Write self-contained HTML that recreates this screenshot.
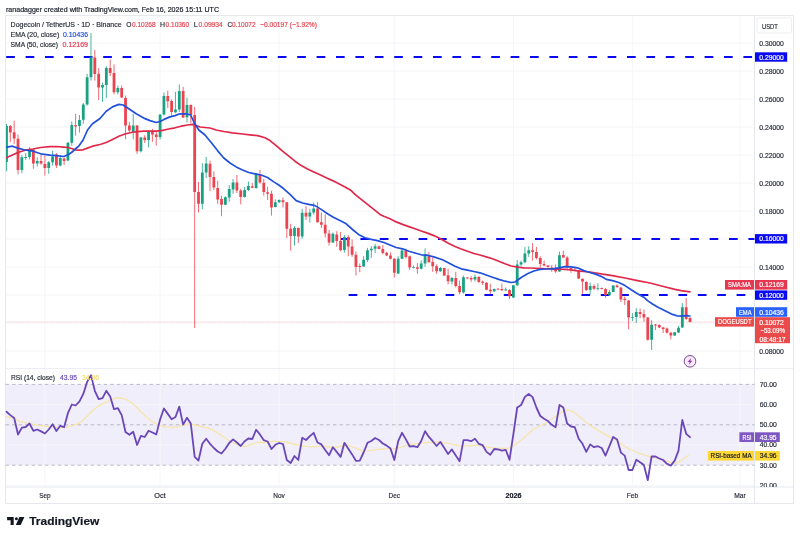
<!DOCTYPE html>
<html lang="en"><head><meta charset="utf-8"><title>DOGEUSDT chart</title>
<style>html,body{margin:0;padding:0;background:#fff}body{width:800px;height:539px;position:relative;overflow:hidden;font-family:"Liberation Sans", "DejaVu Sans", sans-serif}</style>
</head><body>
<svg width="800" height="539" viewBox="0 0 800 539" style="position:absolute;left:0;top:0;filter:blur(0.35px);font-family:'Liberation Sans', 'DejaVu Sans', sans-serif">
<rect width="800" height="539" fill="#fff"/>
<rect x="5.5" y="384.4" width="749.0" height="80.8" fill="#f1eefb"/>
<path d="M5.5 43H754.5M5.5 71H754.5M5.5 99H754.5M5.5 127H754.5M5.5 155H754.5M5.5 183H754.5M5.5 211H754.5M5.5 239H754.5M5.5 267H754.5M5.5 295H754.5M5.5 323H754.5M5.5 351H754.5M5.5 404.6H754.5M5.5 445.0H754.5M5.5 485.4H754.5M44.9 15.5V487.0M160.1 15.5V487.0M279.1 15.5V487.0M394.3 15.5V487.0M513.4 15.5V487.0M632.4 15.5V487.0M739.9 15.5V487.0" stroke="#f5f6f9" stroke-width="1" fill="none"/>
<path d="M5.5 15.5H793.5V503.5H5.5Z M754.5 15.5V503.5 M5.5 487.0H793.5" stroke="#e6e8ee" stroke-width="1" fill="none"/>
<path d="M5.5 368.5H793.5" stroke="#eceef3" stroke-width="1" fill="none"/>
<path d="M5.5 384.4H754.5" stroke="#90909f" stroke-width="0.6" stroke-dasharray="3.5 3.05" fill="none"/>
<path d="M5.5 424.8H754.5" stroke="#90909f" stroke-width="0.6" stroke-dasharray="3.5 3.05" fill="none"/>
<path d="M5.5 465.2H754.5" stroke="#90909f" stroke-width="0.6" stroke-dasharray="3.5 3.05" fill="none"/>
<path d="M5.5 322H754.5" stroke="#eb4450" stroke-width="0.6" stroke-dasharray="0.6 0.6" opacity="0.55" fill="none"/>
<path d="M6.2 57.0H754.5" stroke="#0a0af0" stroke-width="2.2" stroke-dasharray="8.7 10.7" fill="none"/>
<path d="M341 239.00H754.5" stroke="#0a0af0" stroke-width="2.2" stroke-dasharray="8.7 10.7" fill="none"/>
<path d="M348.6 295.00H754.5" stroke="#0a0af0" stroke-width="2.2" stroke-dasharray="8.7 10.7" fill="none"/>
<path d="M6.50 123.8V171.2M21.86 155.2V173.1M25.70 153.1V159.8M29.54 147.2V159.4M37.22 157.2V166.5M48.74 161.0V173.8M52.58 150.6V165.6M60.26 155.0V166.2M67.94 141.9V161.2M71.78 121.5V145.6M79.46 115.0V132.5M83.30 103.0V123.8M87.14 73.8V105.6M90.98 33.0V80.6M102.50 82.5V101.9M106.34 66.2V98.1M117.86 85.6V94.4M133.22 113.8V139.4M140.90 136.9V152.5M148.58 130.6V147.5M160.10 113.8V139.4M163.94 92.5V115.6M175.46 91.9V113.1M179.30 84.4V111.9M186.98 97.5V122.5M202.34 163.1V209.4M206.18 156.9V178.1M225.38 196.2V205.0M229.22 185.0V201.9M233.06 179.0V193.8M244.58 186.9V197.5M248.42 181.5V191.2M256.10 173.0V188.8M275.30 199.4V207.5M279.14 199.4V202.8M294.50 226.2V245.6M302.18 208.8V238.8M309.86 208.8V222.5M313.70 202.5V214.4M332.90 232.5V243.1M344.42 235.0V252.5M363.62 256.2V266.9M367.46 247.8V261.9M371.30 246.2V257.8M375.14 243.8V253.1M398.18 256.2V274.0M402.02 248.8V259.0M413.54 265.6V268.5M421.22 260.2V269.4M425.06 248.5V266.9M440.42 266.9V271.9M451.94 276.9V284.4M463.46 275.6V293.5M474.98 274.4V281.5M494.18 288.5V291.9M505.70 287.5V290.6M513.38 285.0V298.1M517.22 260.0V286.0M521.06 260.6V266.0M524.90 246.9V263.1M528.74 246.2V256.9M559.46 251.5V271.9M590.18 282.5V294.4M597.86 283.1V290.6M609.38 289.8V295.6M613.22 285.2V292.2M632.42 313.1V321.0M636.26 308.1V323.1M651.62 320.2V350.0M674.66 331.9V336.0M678.50 326.0V333.1M682.34 303.1V327.8" stroke="#1aa184" stroke-width="0.8" fill="none"/>
<path d="M10.34 125.0V141.9M14.18 120.6V143.8M18.02 134.4V174.4M33.38 148.1V168.8M41.06 155.0V164.8M44.90 155.6V175.6M56.42 153.1V168.1M64.10 157.5V165.0M75.62 113.8V135.6M94.82 50.0V80.6M98.66 68.1V100.0M110.18 59.4V76.2M114.02 64.4V94.4M121.70 85.6V98.1M125.54 95.6V139.4M129.38 121.9V131.9M137.06 125.0V153.8M144.74 135.2V143.1M152.42 128.8V141.9M156.26 131.2V145.6M167.78 90.6V108.1M171.62 99.4V115.6M183.14 86.9V118.1M190.82 104.4V123.1M194.66 106.9V328.0M198.50 181.9V212.5M210.02 160.6V191.2M213.86 171.2V190.0M217.70 180.6V203.8M221.54 195.6V216.2M236.90 175.0V193.1M240.74 188.8V204.4M252.26 183.0V188.1M259.94 170.0V183.8M263.78 178.8V195.6M267.62 186.9V200.0M271.46 190.6V215.6M282.98 197.5V207.5M286.82 201.9V238.1M290.66 223.8V250.6M298.34 227.5V243.1M306.02 206.2V219.8M317.54 201.9V222.5M321.38 212.5V228.1M325.22 214.4V237.5M329.06 230.0V245.6M336.74 231.2V246.9M340.58 231.9V251.2M348.26 235.0V256.2M352.10 239.4V256.9M355.94 251.5V275.6M359.78 263.5V272.2M378.98 245.6V249.4M382.82 245.0V254.4M386.66 251.9V256.2M390.50 252.5V259.4M394.34 258.1V277.5M405.86 248.5V258.5M409.70 255.6V270.0M417.38 263.1V273.8M428.90 251.9V262.8M432.74 257.5V271.9M436.58 264.4V273.8M444.26 267.8V276.2M448.10 268.8V284.4M455.78 271.9V287.5M459.62 280.6V294.4M467.30 277.2V279.4M471.14 276.0V281.9M478.82 276.0V282.8M482.66 280.6V285.0M486.50 282.2V290.2M490.34 283.8V293.8M498.02 288.1V290.0M501.86 283.5V291.0M509.54 289.0V299.0M532.58 243.1V260.6M536.42 246.9V259.4M540.26 256.2V267.8M544.10 260.6V266.2M547.94 265.0V267.8M551.78 265.0V271.9M555.62 264.4V272.8M563.30 250.6V258.1M567.14 256.2V268.8M570.98 266.2V272.8M574.82 267.5V271.2M578.66 270.0V279.0M582.50 278.5V293.8M586.34 281.2V291.2M594.02 284.4V290.0M601.70 287.5V289.4M605.54 288.1V297.8M617.06 284.4V287.5M620.90 287.2V301.9M624.74 296.5V305.0M628.58 300.0V329.4M640.10 308.5V318.1M643.94 309.4V321.9M647.78 316.9V340.6M655.46 324.0V330.0M659.30 324.4V328.1M663.14 326.9V333.1M666.98 327.5V333.5M670.82 331.9V339.4M686.18 298.1V319.8M690.02 317.2V322.5" stroke="#eb4450" stroke-width="0.8" fill="none"/>
<path d="M6.00 126.0h1.90V161.9h-1.90zM20.46 157.2h2.80V170.0h-2.80zM24.30 156.9h2.80V158.1h-2.80zM28.14 149.4h2.80V156.9h-2.80zM35.82 161.0h2.80V163.5h-2.80zM47.34 162.2h2.80V168.1h-2.80zM51.18 156.5h2.80V162.2h-2.80zM58.86 158.1h2.80V165.6h-2.80zM66.54 142.8h2.80V160.6h-2.80zM70.38 125.0h2.80V142.8h-2.80zM78.06 120.0h2.80V126.0h-2.80zM81.90 104.4h2.80V119.8h-2.80zM85.74 77.2h2.80V104.4h-2.80zM89.58 57.2h2.80V77.2h-2.80zM101.10 85.0h2.80V87.5h-2.80zM104.94 68.1h2.80V85.0h-2.80zM116.46 88.1h2.80V92.2h-2.80zM131.82 125.6h2.80V131.9h-2.80zM139.50 137.5h2.80V151.2h-2.80zM147.18 131.5h2.80V140.0h-2.80zM158.70 114.8h2.80V136.9h-2.80zM162.54 96.0h2.80V114.4h-2.80zM174.06 109.4h2.80V112.2h-2.80zM177.90 91.0h2.80V109.4h-2.80zM185.58 105.0h2.80V117.2h-2.80zM200.94 172.5h2.80V203.8h-2.80zM204.78 163.5h2.80V172.5h-2.80zM223.98 197.2h2.80V204.8h-2.80zM227.82 189.0h2.80V197.5h-2.80zM231.66 182.5h2.80V189.4h-2.80zM243.18 190.0h2.80V196.9h-2.80zM247.02 186.0h2.80V190.0h-2.80zM254.70 173.5h2.80V188.1h-2.80zM273.90 202.2h2.80V206.9h-2.80zM277.74 200.0h2.80V202.2h-2.80zM293.10 228.1h2.80V236.0h-2.80zM300.78 212.8h2.80V236.5h-2.80zM308.46 212.5h2.80V216.5h-2.80zM312.30 208.5h2.80V212.5h-2.80zM331.50 233.8h2.80V242.5h-2.80zM343.02 236.9h2.80V250.0h-2.80zM362.22 259.8h2.80V266.5h-2.80zM366.06 250.2h2.80V260.0h-2.80zM369.90 248.8h2.80V250.2h-2.80zM373.74 246.2h2.80V248.8h-2.80zM396.78 258.8h2.80V273.5h-2.80zM400.62 250.6h2.80V258.8h-2.80zM412.14 266.9h2.80V267.8h-2.80zM419.82 263.5h2.80V268.8h-2.80zM423.66 254.4h2.80V263.5h-2.80zM439.02 268.1h2.80V271.2h-2.80zM450.54 278.1h2.80V281.5h-2.80zM462.06 277.2h2.80V292.5h-2.80zM473.58 276.9h2.80V279.4h-2.80zM492.78 289.0h2.80V291.2h-2.80zM504.30 289.6h2.80V290.4h-2.80zM511.98 285.2h2.80V297.5h-2.80zM515.82 264.4h2.80V285.2h-2.80zM519.66 262.2h2.80V264.4h-2.80zM523.50 253.5h2.80V262.2h-2.80zM527.34 250.2h2.80V253.5h-2.80zM558.06 255.2h2.80V271.5h-2.80zM588.78 286.0h2.80V290.0h-2.80zM596.46 288.1h2.80V288.8h-2.80zM607.98 291.9h2.80V295.2h-2.80zM611.82 285.6h2.80V291.9h-2.80zM631.02 316.9h2.80V317.8h-2.80zM634.86 311.9h2.80V316.9h-2.80zM650.22 324.8h2.80V339.8h-2.80zM673.26 332.2h2.80V335.6h-2.80zM677.10 327.8h2.80V332.5h-2.80zM680.94 307.2h2.80V327.5h-2.80z" fill="#1aa184"/>
<path d="M8.94 126.0h2.80V132.5h-2.80zM12.78 132.2h2.80V138.5h-2.80zM16.62 138.8h2.80V170.0h-2.80zM31.98 149.4h2.80V163.5h-2.80zM39.66 161.0h2.80V163.5h-2.80zM43.50 164.0h2.80V168.1h-2.80zM55.02 154.4h2.80V165.6h-2.80zM62.70 158.5h2.80V161.0h-2.80zM74.22 125.2h2.80V126.5h-2.80zM93.42 57.5h2.80V74.0h-2.80zM97.26 73.8h2.80V87.5h-2.80zM108.78 68.1h2.80V73.1h-2.80zM112.62 73.1h2.80V92.2h-2.80zM120.30 88.1h2.80V97.5h-2.80zM124.14 98.1h2.80V125.6h-2.80zM127.98 125.6h2.80V130.6h-2.80zM135.66 125.6h2.80V151.2h-2.80zM143.34 137.5h2.80V140.0h-2.80zM151.02 131.5h2.80V134.4h-2.80zM154.86 134.4h2.80V136.9h-2.80zM166.38 96.0h2.80V101.2h-2.80zM170.22 101.0h2.80V111.9h-2.80zM181.74 91.0h2.80V117.5h-2.80zM189.42 105.0h2.80V115.0h-2.80zM193.26 115.0h2.80V191.9h-2.80zM197.10 191.9h2.80V203.8h-2.80zM208.62 163.8h2.80V176.9h-2.80zM212.46 176.9h2.80V187.5h-2.80zM216.30 188.1h2.80V199.4h-2.80zM220.14 199.0h2.80V204.8h-2.80zM235.50 182.5h2.80V190.6h-2.80zM239.34 190.6h2.80V196.9h-2.80zM250.86 186.2h2.80V187.8h-2.80zM258.54 175.0h2.80V182.5h-2.80zM262.38 182.8h2.80V191.9h-2.80zM266.22 192.2h2.80V193.8h-2.80zM270.06 193.8h2.80V207.5h-2.80zM281.58 200.2h2.80V202.2h-2.80zM285.42 202.2h2.80V228.8h-2.80zM289.26 228.8h2.80V236.0h-2.80zM296.94 228.1h2.80V236.5h-2.80zM304.62 212.8h2.80V216.5h-2.80zM316.14 208.5h2.80V222.2h-2.80zM319.98 222.2h2.80V224.8h-2.80zM323.82 224.8h2.80V233.5h-2.80zM327.66 233.5h2.80V242.5h-2.80zM335.34 234.4h2.80V241.0h-2.80zM339.18 241.0h2.80V250.2h-2.80zM346.86 236.9h2.80V246.5h-2.80zM350.70 246.5h2.80V254.8h-2.80zM354.54 254.8h2.80V266.9h-2.80zM358.38 266.0h2.80V266.9h-2.80zM377.58 246.2h2.80V249.0h-2.80zM381.42 249.0h2.80V253.1h-2.80zM385.26 252.8h2.80V255.6h-2.80zM389.10 255.4h2.80V258.8h-2.80zM392.94 258.8h2.80V272.8h-2.80zM404.46 250.6h2.80V256.9h-2.80zM408.30 256.2h2.80V267.5h-2.80zM415.98 267.2h2.80V268.8h-2.80zM427.50 255.6h2.80V262.2h-2.80zM431.34 261.9h2.80V266.2h-2.80zM435.18 266.2h2.80V271.2h-2.80zM442.86 268.1h2.80V275.6h-2.80zM446.70 275.2h2.80V281.2h-2.80zM454.38 278.1h2.80V286.0h-2.80zM458.22 286.0h2.80V292.2h-2.80zM465.90 277.5h2.80V278.2h-2.80zM469.74 277.9h2.80V279.4h-2.80zM477.42 276.9h2.80V281.9h-2.80zM481.26 281.5h2.80V282.8h-2.80zM485.10 282.8h2.80V289.8h-2.80zM488.94 289.8h2.80V291.2h-2.80zM496.62 288.7h2.80V289.4h-2.80zM500.46 289.0h2.80V290.2h-2.80zM508.14 290.0h2.80V296.2h-2.80zM531.18 250.2h2.80V251.9h-2.80zM535.02 251.9h2.80V258.1h-2.80zM538.86 258.1h2.80V264.0h-2.80zM542.70 264.0h2.80V265.6h-2.80zM546.54 265.6h2.80V266.9h-2.80zM550.38 267.5h2.80V269.0h-2.80zM554.22 268.8h2.80V271.5h-2.80zM561.90 255.0h2.80V257.5h-2.80zM565.74 257.5h2.80V266.2h-2.80zM569.58 268.1h2.80V270.0h-2.80zM573.42 269.8h2.80V270.6h-2.80zM577.26 270.6h2.80V278.5h-2.80zM581.10 278.8h2.80V281.5h-2.80zM584.94 281.9h2.80V290.0h-2.80zM592.62 286.0h2.80V288.8h-2.80zM600.30 288.1h2.80V289.0h-2.80zM604.14 289.0h2.80V295.0h-2.80zM615.66 285.6h2.80V287.2h-2.80zM619.50 287.5h2.80V299.4h-2.80zM623.34 298.8h2.80V300.0h-2.80zM627.18 300.6h2.80V317.5h-2.80zM638.70 311.9h2.80V314.0h-2.80zM642.54 314.0h2.80V317.5h-2.80zM646.38 317.5h2.80V339.8h-2.80zM654.06 324.6h2.80V325.4h-2.80zM657.90 325.0h2.80V327.5h-2.80zM661.74 327.5h2.80V329.0h-2.80zM665.58 328.5h2.80V332.8h-2.80zM669.42 332.8h2.80V335.6h-2.80zM684.78 307.2h2.80V319.0h-2.80zM688.62 318.1h2.80V321.9h-2.80z" fill="#eb4450"/>
<path d="M6.9 157.5L12.5 155.0L17.9 152.5L25.0 150.2L33.1 149.0L40.6 147.5L50.0 146.6L56.2 146.5L63.8 147.1L67.5 147.5L71.5 148.5L75.4 149.8L79.2 150.2L83.1 149.8L87.5 148.1L92.5 146.2L100.0 144.5L106.2 142.5L112.5 139.4L118.8 136.2L125.0 134.0L131.2 132.5L137.5 131.6L143.8 131.2L150.0 131.2L156.2 131.2L162.5 130.4L168.8 129.0L175.0 127.8L181.2 126.2L187.5 125.0L192.5 124.4L196.2 125.6L200.0 127.0L210.0 128.0L216.2 130.0L223.8 131.5L232.5 132.8L242.5 134.0L250.0 134.8L257.5 135.6L265.0 137.8L270.0 140.6L276.2 145.6L282.5 151.2L288.8 156.2L295.0 161.2L301.2 165.6L307.5 169.0L313.8 172.0L320.0 174.8L326.2 177.8L332.5 180.6L338.8 183.8L345.0 187.0L351.2 190.6L355.0 194.4L361.2 199.4L367.5 204.4L373.8 209.4L380.0 214.4L383.8 216.2L390.0 218.8L396.2 221.9L402.5 224.4L408.8 226.6L415.0 228.8L421.2 231.0L427.5 233.1L433.8 235.6L440.0 238.4L448.8 243.5L455.0 246.5L461.2 249.0L467.5 251.2L473.8 253.5L480.0 255.0L486.2 256.9L492.5 258.8L498.8 261.2L505.0 263.8L511.2 266.0L517.5 267.2L523.8 267.9L530.0 268.0L540.0 268.5L552.5 269.0L565.0 269.4L571.2 270.0L577.5 270.9L583.8 271.5L590.0 272.2L596.2 273.0L602.5 274.2L612.5 275.6L625.0 278.0L637.5 280.6L650.0 283.0L662.5 286.2L675.0 289.4L681.2 290.6L690.0 291.9" stroke="#e0294a" stroke-width="1.7" fill="none" stroke-linejoin="round" stroke-linecap="round"/>
<path d="M6.9 147.2L12.5 146.2L17.9 148.1L25.0 150.0L33.1 151.2L40.6 153.8L50.0 155.2L56.2 155.6L63.8 156.5L67.5 155.0L71.5 152.5L75.4 149.0L79.2 145.6L83.1 140.0L87.5 130.0L92.5 123.8L100.0 118.5L106.2 111.2L112.5 106.9L118.8 104.4L123.1 105.0L128.8 108.8L136.2 113.8L143.8 118.1L150.0 120.6L156.2 122.5L160.0 121.5L164.0 119.4L170.0 116.9L175.0 115.6L180.0 113.8L186.2 113.8L190.6 115.0L194.8 123.8L198.8 130.0L205.0 135.0L211.2 142.5L217.5 150.6L223.8 158.0L230.0 163.0L236.2 166.9L242.5 170.0L248.8 172.5L255.0 173.8L261.2 175.0L267.5 177.5L273.8 181.9L278.8 185.0L283.8 188.8L290.0 194.4L296.2 200.6L302.5 203.0L308.8 204.4L315.0 205.6L321.2 209.4L327.5 213.8L333.8 217.5L340.0 220.6L346.2 223.8L352.5 229.5L358.8 234.7L365.0 237.8L371.2 239.4L377.5 240.6L383.8 242.5L390.0 245.0L396.2 247.5L402.5 248.8L408.8 251.2L415.0 253.0L421.2 254.8L427.5 255.2L433.8 256.9L442.5 259.8L448.8 263.0L455.0 266.2L461.2 268.8L467.5 270.2L473.8 271.5L480.0 272.8L486.2 275.0L492.5 277.2L498.8 279.4L505.0 281.2L511.2 282.5L515.0 282.0L521.2 277.5L527.5 273.8L533.8 271.0L540.0 269.4L546.2 269.0L552.5 268.8L558.8 267.8L565.0 266.6L571.2 266.9L577.5 267.8L583.8 270.6L590.0 272.5L596.2 274.4L602.5 277.0L606.2 279.4L612.5 280.6L618.8 282.5L625.0 285.6L631.2 289.8L637.5 293.8L643.8 297.2L647.5 300.6L652.5 304.0L657.5 306.9L662.5 309.4L667.5 311.9L672.5 314.4L677.5 316.0L681.2 316.2L686.2 315.6L690.0 316.0" stroke="#2150dc" stroke-width="1.7" fill="none" stroke-linejoin="round" stroke-linecap="round"/>
<path d="M6.2 416.4L12.5 418.2L18.8 420.8L25.0 422.6L31.2 423.9L37.5 425.1L43.8 426.0L50.0 426.6L56.2 427.2L62.5 427.6L66.2 427.2L71.2 425.8L77.5 423.9L82.5 420.8L87.5 415.8L93.8 409.5L100.0 404.9L108.8 400.8L115.0 398.0L121.2 398.0L127.5 400.1L133.8 404.5L140.0 410.8L146.2 417.0L152.5 421.8L158.8 425.1L165.0 426.8L171.2 427.1L177.5 427.1L182.5 425.2L188.8 423.8L195.0 425.0L201.2 426.5L207.5 427.8L213.8 430.6L220.0 434.4L226.2 438.8L232.5 442.5L238.8 445.2L245.0 446.9L251.2 444.4L257.5 442.5L263.8 442.5L272.5 441.2L285.0 441.9L297.5 445.0L310.0 446.9L322.5 446.2L335.0 447.5L347.5 445.0L356.2 448.1L362.5 451.2L368.8 450.6L375.0 449.8L381.2 449.0L387.5 448.8L393.8 448.8L400.0 447.5L406.2 445.6L412.5 444.4L418.8 443.5L425.0 442.8L431.2 442.2L437.5 441.9L446.2 443.1L452.5 444.4L458.8 445.6L465.0 446.2L471.2 445.6L477.5 445.2L483.8 446.2L490.0 447.5L496.2 448.1L502.5 448.5L508.8 448.1L515.0 445.0L521.2 440.0L527.5 434.4L533.8 429.0L542.5 425.0L548.8 421.2L555.0 416.9L561.2 412.5L567.5 410.0L573.8 411.9L580.0 416.9L586.2 422.5L592.5 426.9L598.8 430.6L605.0 434.4L611.2 437.6L617.5 440.6L622.5 445.0L628.8 448.8L635.0 451.5L641.2 453.8L647.5 456.0L653.8 457.5L660.0 458.8L666.2 461.0L672.5 463.1L677.5 463.1L682.5 459.4L688.8 455.2" stroke="#f5e5ac" stroke-width="1.3" fill="none" stroke-linejoin="round"/>
<path d="M6.5 411.8L10.3 415.1L14.2 418.0L18.0 434.5L21.9 427.6L25.7 427.0L29.5 423.5L33.4 430.8L37.2 429.5L41.1 431.4L44.9 433.5L48.7 429.5L52.6 424.2L56.4 431.0L60.3 425.8L64.1 427.2L67.9 413.2L71.8 404.5L75.6 405.5L79.5 401.4L83.3 393.9L87.1 382.0L91.0 375.1L94.8 390.8L98.7 399.2L102.5 398.2L106.3 390.8L110.2 396.4L114.0 409.2L117.9 408.2L121.7 415.1L125.5 432.0L129.4 434.8L133.2 431.8L137.1 445.0L140.9 435.8L144.7 437.0L148.6 430.7L152.4 432.5L156.3 434.4L160.1 419.5L163.9 408.5L167.8 413.9L171.6 419.2L175.5 417.0L179.3 406.6L183.1 424.6L187.0 417.7L190.8 423.6L194.7 456.9L198.5 460.6L202.3 443.8L206.2 438.8L210.0 443.8L213.9 448.0L217.7 451.5L221.5 453.5L225.4 448.8L229.2 443.0L233.1 439.4L236.9 442.5L240.7 446.0L244.6 441.2L248.4 438.5L252.3 439.0L256.1 429.8L259.9 434.4L263.8 440.2L267.6 441.5L271.5 449.0L275.3 444.8L279.1 443.0L283.0 444.0L286.8 460.0L290.7 463.0L294.5 456.0L298.3 460.0L302.2 437.8L306.0 440.0L309.9 436.2L313.7 432.8L317.5 442.5L321.4 444.4L325.2 450.0L329.1 455.2L332.9 447.2L336.7 451.9L340.6 456.9L344.4 442.8L348.3 448.8L352.1 454.4L355.9 460.8L359.8 460.6L363.6 452.5L367.5 442.8L371.3 441.0L375.1 438.0L379.0 440.0L382.8 443.5L386.7 445.6L390.5 448.5L394.3 460.0L398.2 441.2L402.0 432.8L405.9 439.4L409.7 446.5L413.5 446.2L417.4 447.2L421.2 441.0L425.1 431.2L428.9 436.9L432.7 441.2L436.6 446.0L440.4 441.9L444.3 448.0L448.1 454.0L451.9 449.4L455.8 455.6L459.6 461.2L463.5 440.2L467.3 440.2L471.1 441.2L475.0 438.8L478.8 443.8L482.7 445.2L486.5 451.9L490.3 454.8L494.2 449.0L498.0 449.4L501.9 450.6L505.7 449.8L509.5 459.8L513.4 434.0L517.2 407.5L521.1 405.0L524.9 396.9L528.7 394.0L532.6 397.1L536.4 407.5L540.3 416.0L544.1 418.8L547.9 421.0L551.8 424.8L555.6 427.2L559.5 405.0L563.3 407.5L567.1 423.5L571.0 426.5L574.8 427.2L578.7 438.8L582.5 443.8L586.3 451.9L590.2 444.4L594.0 447.2L597.9 446.2L601.7 448.0L605.5 455.6L609.4 446.2L613.2 436.9L617.1 439.4L620.9 452.6L624.7 455.6L628.6 470.0L632.4 470.0L636.3 459.8L640.1 462.2L643.9 465.0L647.8 480.2L651.6 456.5L655.5 456.5L659.3 458.5L663.1 460.0L667.0 463.8L670.8 465.6L674.7 460.6L678.5 450.6L682.3 420.0L686.2 433.8L690.0 437.2" stroke="#6a47b8" stroke-width="1.8" fill="none" stroke-linejoin="round" stroke-linecap="round"/>
<g transform="translate(690 361.3)"><circle r="5.8" fill="#fbe9fd" stroke="#6b3a86" stroke-width="0.9"/><path d="M1.3 -3.6L-2.3 0.6H-0.2L-1.3 3.6L2.3 -0.6H0.2Z" fill="#8e2fa8"/></g>
<text x="6" y="11.7" font-size="7.6" fill="#131722" textLength="213" lengthAdjust="spacingAndGlyphs" stroke="#131722" stroke-width="0.18">ranadagger created with TradingView.com, Feb 16, 2026 15:11 UTC</text>
<text x="10.6" y="27" font-size="7.0" fill="#2a2e39" textLength="111" lengthAdjust="spacingAndGlyphs" stroke="#2a2e39" stroke-width="0.18">Dogecoin / TetherUS · 1D · Binance</text>
<text x="126.2" y="27" font-size="7.0" fill="#2a2e39" textLength="5.2" lengthAdjust="spacingAndGlyphs" stroke="#2a2e39" stroke-width="0.18">O</text>
<text x="132" y="27" font-size="7.0" fill="#eb4450" textLength="23.5" lengthAdjust="spacingAndGlyphs" stroke="#eb4450" stroke-width="0.18">0.10268</text>
<text x="160" y="27" font-size="7.0" fill="#2a2e39" textLength="5" lengthAdjust="spacingAndGlyphs" stroke="#2a2e39" stroke-width="0.18">H</text>
<text x="165.6" y="27" font-size="7.0" fill="#eb4450" textLength="23.5" lengthAdjust="spacingAndGlyphs" stroke="#eb4450" stroke-width="0.18">0.10360</text>
<text x="193.8" y="27" font-size="7.0" fill="#2a2e39" textLength="4" lengthAdjust="spacingAndGlyphs" stroke="#2a2e39" stroke-width="0.18">L</text>
<text x="198.6" y="27" font-size="7.0" fill="#eb4450" textLength="24.2" lengthAdjust="spacingAndGlyphs" stroke="#eb4450" stroke-width="0.18">0.09934</text>
<text x="227.6" y="27" font-size="7.0" fill="#2a2e39" textLength="4.6" lengthAdjust="spacingAndGlyphs" stroke="#2a2e39" stroke-width="0.18">C</text>
<text x="232" y="27" font-size="7.0" fill="#eb4450" textLength="23.5" lengthAdjust="spacingAndGlyphs" stroke="#eb4450" stroke-width="0.18">0.10072</text>
<text x="260" y="27" font-size="7.0" fill="#eb4450" textLength="57" lengthAdjust="spacingAndGlyphs" stroke="#eb4450" stroke-width="0.18">−0.00197 (−1.92%)</text>
<text x="10.6" y="36.8" font-size="7.0" fill="#2a2e39" textLength="48.6" lengthAdjust="spacingAndGlyphs" stroke="#2a2e39" stroke-width="0.18">EMA (20, close)</text>
<text x="63" y="36.8" font-size="7.0" fill="#2150dc" textLength="25" lengthAdjust="spacingAndGlyphs" stroke="#2150dc" stroke-width="0.18">0.10436</text>
<text x="10.6" y="47.4" font-size="7.0" fill="#2a2e39" textLength="47.4" lengthAdjust="spacingAndGlyphs" stroke="#2a2e39" stroke-width="0.18">SMA (50, close)</text>
<text x="62.5" y="47.4" font-size="7.0" fill="#e8384f" textLength="25.5" lengthAdjust="spacingAndGlyphs" stroke="#e8384f" stroke-width="0.18">0.12169</text>
<text x="11" y="380.2" font-size="7.0" fill="#2a2e39" textLength="44" lengthAdjust="spacingAndGlyphs" stroke="#2a2e39" stroke-width="0.18">RSI (14, close)</text>
<text x="60" y="380.2" font-size="7.0" fill="#6a47b8" textLength="17" lengthAdjust="spacingAndGlyphs" stroke="#6a47b8" stroke-width="0.18">43.95</text>
<text x="82" y="380.2" font-size="7.0" fill="#f2d870" textLength="17" lengthAdjust="spacingAndGlyphs" stroke="#f2d870" stroke-width="0.18">34.96</text>
<text x="759.3" y="45.5" font-size="6.9" fill="#2a2e39" textLength="24.6" lengthAdjust="spacingAndGlyphs" stroke="#2a2e39" stroke-width="0.18">0.30000</text>
<text x="759.3" y="73.5" font-size="6.9" fill="#2a2e39" textLength="24.6" lengthAdjust="spacingAndGlyphs" stroke="#2a2e39" stroke-width="0.18">0.28000</text>
<text x="759.3" y="101.5" font-size="6.9" fill="#2a2e39" textLength="24.6" lengthAdjust="spacingAndGlyphs" stroke="#2a2e39" stroke-width="0.18">0.26000</text>
<text x="759.3" y="129.5" font-size="6.9" fill="#2a2e39" textLength="24.6" lengthAdjust="spacingAndGlyphs" stroke="#2a2e39" stroke-width="0.18">0.24000</text>
<text x="759.3" y="157.5" font-size="6.9" fill="#2a2e39" textLength="24.6" lengthAdjust="spacingAndGlyphs" stroke="#2a2e39" stroke-width="0.18">0.22000</text>
<text x="759.3" y="185.5" font-size="6.9" fill="#2a2e39" textLength="24.6" lengthAdjust="spacingAndGlyphs" stroke="#2a2e39" stroke-width="0.18">0.20000</text>
<text x="759.3" y="213.5" font-size="6.9" fill="#2a2e39" textLength="24.6" lengthAdjust="spacingAndGlyphs" stroke="#2a2e39" stroke-width="0.18">0.18000</text>
<text x="759.3" y="241.5" font-size="6.9" fill="#2a2e39" textLength="24.6" lengthAdjust="spacingAndGlyphs" stroke="#2a2e39" stroke-width="0.18">0.16000</text>
<text x="759.3" y="269.5" font-size="6.9" fill="#2a2e39" textLength="24.6" lengthAdjust="spacingAndGlyphs" stroke="#2a2e39" stroke-width="0.18">0.14000</text>
<text x="759.3" y="297.5" font-size="6.9" fill="#2a2e39" textLength="24.6" lengthAdjust="spacingAndGlyphs" stroke="#2a2e39" stroke-width="0.18">0.12000</text>
<text x="759.3" y="325.5" font-size="6.9" fill="#2a2e39" textLength="24.6" lengthAdjust="spacingAndGlyphs" stroke="#2a2e39" stroke-width="0.18">0.10000</text>
<text x="759.3" y="353.5" font-size="6.9" fill="#2a2e39" textLength="24.6" lengthAdjust="spacingAndGlyphs" stroke="#2a2e39" stroke-width="0.18">0.08000</text>
<text x="759.8" y="386.79999999999995" font-size="6.9" fill="#2a2e39" textLength="17" lengthAdjust="spacingAndGlyphs" stroke="#2a2e39" stroke-width="0.18">70.00</text>
<text x="759.8" y="406.99999999999994" font-size="6.9" fill="#2a2e39" textLength="17" lengthAdjust="spacingAndGlyphs" stroke="#2a2e39" stroke-width="0.18">60.00</text>
<text x="759.8" y="427.19999999999993" font-size="6.9" fill="#2a2e39" textLength="17" lengthAdjust="spacingAndGlyphs" stroke="#2a2e39" stroke-width="0.18">50.00</text>
<text x="759.8" y="447.4" font-size="6.9" fill="#2a2e39" textLength="17" lengthAdjust="spacingAndGlyphs" stroke="#2a2e39" stroke-width="0.18">40.00</text>
<text x="759.8" y="467.59999999999997" font-size="6.9" fill="#2a2e39" textLength="17" lengthAdjust="spacingAndGlyphs" stroke="#2a2e39" stroke-width="0.18">30.00</text>
<clipPath id="c20"><rect x="754.5" y="470" width="40" height="17.0"/></clipPath>
<g clip-path="url(#c20)">
<text x="759.8" y="487.79999999999995" font-size="6.9" fill="#2a2e39" textLength="17" lengthAdjust="spacingAndGlyphs" stroke="#2a2e39" stroke-width="0.18">20.00</text>
</g>
<rect x="757" y="17.8" width="34.6" height="15.2" rx="2" fill="#fff" stroke="#e6e8ee" stroke-width="0.8"/>
<text x="762" y="28.7" font-size="6.9" fill="#2a2e39" textLength="15.8" lengthAdjust="spacingAndGlyphs" stroke="#2a2e39" stroke-width="0.18">USDT</text>
<rect x="755" y="52.3" width="32.200000000000045" height="9.400000000000006" fill="#0a0af0"/>
<text x="759.3" y="59.5" font-size="6.9" fill="#fff" textLength="24.6" lengthAdjust="spacingAndGlyphs" stroke="#fff" stroke-width="0.18">0.29000</text>
<rect x="755" y="234.1" width="32.200000000000045" height="9.400000000000006" fill="#0a0af0"/>
<text x="759.3" y="241.3" font-size="6.9" fill="#fff" textLength="24.6" lengthAdjust="spacingAndGlyphs" stroke="#fff" stroke-width="0.18">0.16000</text>
<rect x="725" y="280" width="29" height="9.600000000000023" fill="#e5374f"/>
<text x="728" y="287.3" font-size="6.9" fill="#fff" textLength="23" lengthAdjust="spacingAndGlyphs" stroke="#fff" stroke-width="0.18">SMA:MA</text>
<rect x="755" y="280" width="32.200000000000045" height="9.600000000000023" fill="#e5374f"/>
<text x="759.3" y="287.3" font-size="6.9" fill="#fff" textLength="24.6" lengthAdjust="spacingAndGlyphs" stroke="#fff" stroke-width="0.18">0.12169</text>
<rect x="755" y="290.4" width="32.200000000000045" height="9.400000000000034" fill="#0a0af0"/>
<text x="759.3" y="297.6" font-size="6.9" fill="#fff" textLength="24.6" lengthAdjust="spacingAndGlyphs" stroke="#fff" stroke-width="0.18">0.12000</text>
<rect x="736" y="307.2" width="18" height="9.600000000000023" fill="#2962ff"/>
<text x="739" y="314.5" font-size="6.9" fill="#fff" textLength="12.5" lengthAdjust="spacingAndGlyphs" stroke="#fff" stroke-width="0.18">EMA</text>
<rect x="755" y="307.2" width="32.200000000000045" height="9.600000000000023" fill="#2962ff"/>
<text x="759.3" y="314.5" font-size="6.9" fill="#fff" textLength="24.6" lengthAdjust="spacingAndGlyphs" stroke="#fff" stroke-width="0.18">0.10436</text>
<rect x="715" y="317.2" width="39" height="9.400000000000034" fill="#ea4a4a"/>
<text x="718" y="324.4" font-size="6.9" fill="#fff" textLength="33.5" lengthAdjust="spacingAndGlyphs" stroke="#fff" stroke-width="0.18">DOGEUSDT</text>
<rect x="755" y="317.2" width="35" height="26.0" fill="#ea4a4a"/>
<text x="759.3" y="324.8" font-size="6.9" fill="#fff" textLength="24.6" lengthAdjust="spacingAndGlyphs" stroke="#fff" stroke-width="0.18">0.10072</text>
<text x="760.3" y="333.2" font-size="6.9" fill="#fff" textLength="24.6" lengthAdjust="spacingAndGlyphs" stroke="#fff" stroke-width="0.18">−53.09%</text>
<text x="759.6" y="341.6" font-size="6.9" fill="#fff" textLength="26" lengthAdjust="spacingAndGlyphs" stroke="#fff" stroke-width="0.18">08:48:17</text>
<rect x="739.4" y="432.3" width="14.600000000000023" height="9.699999999999989" fill="#7e57c2"/>
<text x="742.5" y="439.65" font-size="6.9" fill="#fff" textLength="9" lengthAdjust="spacingAndGlyphs" stroke="#fff" stroke-width="0.18">RSI</text>
<rect x="755" y="432.3" width="24.799999999999955" height="9.699999999999989" fill="#7e57c2"/>
<text x="759.8" y="439.65" font-size="6.9" fill="#fff" textLength="16.8" lengthAdjust="spacingAndGlyphs" stroke="#fff" stroke-width="0.18">43.95</text>
<rect x="707.8" y="451" width="46.200000000000045" height="9.600000000000023" fill="#fdd835"/>
<text x="710.6" y="458.3" font-size="6.9" fill="#131722" textLength="41" lengthAdjust="spacingAndGlyphs" stroke="#131722" stroke-width="0.18">RSI-based MA</text>
<rect x="755" y="451" width="24.799999999999955" height="9.600000000000023" fill="#fdd835"/>
<text x="759.8" y="458.3" font-size="6.9" fill="#131722" textLength="16.8" lengthAdjust="spacingAndGlyphs" stroke="#131722" stroke-width="0.18">34.96</text>
<text x="44.9" y="498" font-size="6.9" fill="#2a2e39" text-anchor="middle" textLength="11.5" lengthAdjust="spacingAndGlyphs" stroke="#2a2e39" stroke-width="0.18">Sep</text>
<text x="160.1" y="498" font-size="6.9" fill="#2a2e39" text-anchor="middle" textLength="11.5" lengthAdjust="spacingAndGlyphs" stroke="#2a2e39" stroke-width="0.18">Oct</text>
<text x="279.1" y="498" font-size="6.9" fill="#2a2e39" text-anchor="middle" textLength="11.5" lengthAdjust="spacingAndGlyphs" stroke="#2a2e39" stroke-width="0.18">Nov</text>
<text x="394.3" y="498" font-size="6.9" fill="#2a2e39" text-anchor="middle" textLength="11.5" lengthAdjust="spacingAndGlyphs" stroke="#2a2e39" stroke-width="0.18">Dec</text>
<text x="513.4" y="498" font-size="6.9" fill="#131722" text-anchor="middle" textLength="16" lengthAdjust="spacingAndGlyphs" font-weight="bold" stroke="#131722" stroke-width="0.18">2026</text>
<text x="632.4" y="498" font-size="6.9" fill="#2a2e39" text-anchor="middle" textLength="11.5" lengthAdjust="spacingAndGlyphs" stroke="#2a2e39" stroke-width="0.18">Feb</text>
<text x="739.9" y="498" font-size="6.9" fill="#2a2e39" text-anchor="middle" textLength="11.5" lengthAdjust="spacingAndGlyphs" stroke="#2a2e39" stroke-width="0.18">Mar</text>
<g transform="translate(7.1 517.1)" fill="#131722"><path d="M0 0H6.6V7.8H3.5V3.1H0Z"/><circle cx="9.3" cy="1.55" r="1.5"/><path d="M12.3 0H17.3L13.6 7.8H8.7Z"/></g>
<text x="29.2" y="524.8" font-size="10.9" fill="#131722" textLength="70.2" lengthAdjust="spacingAndGlyphs" font-weight="bold" stroke="#131722" stroke-width="0.18">TradingView</text>
</svg>
</body></html>
